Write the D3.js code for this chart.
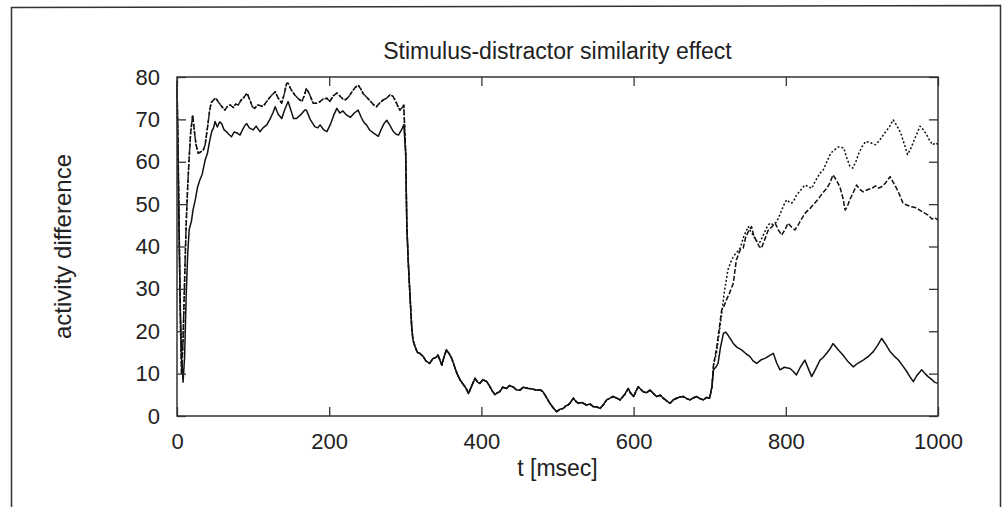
<!DOCTYPE html>
<html lang="en">
<head>
    <meta charset="UTF-8">
    <title>Stimulus-distractor similarity effect</title>
    <style>
        body{
            margin: 0;
            background: #fff;
            font-family: "Liberation Sans", Arial, sans-serif;
        }
        .axis path{
            display: none;
        }
        .axis line{
            stroke: #333;
            stroke-width: 1.3;
        }
        .axis text{
            font-size: 22px;
            fill: #222;
        }
        .curve{
            fill: none;
            stroke: #111;
            stroke-width: 1.5;
            stroke-linejoin: round;
        }
    </style>
</head>
<body>
    <svg width="1002" height="507"></svg>
    <script src="https://d3js.org/d3.v7.min.js"></script>
    <script>
        // [t (msec), activity difference]
        var solidHigh = [[0,78],[2,52],[4,28],[6,14],[8,8],[10,14],[12,28],[14,38],[16,44],[19,46],[21,48.6],[24,51],[27,54],[30,55.7],[33,57],[37,60.4],[40,62],[43,65],[45.6,67.1],[48,68],[50,69.5],[53,68.2],[56,69.4],[58.7,69],[62,67.5],[65,67.1],[68,66.5],[71.6,65.9],[75,67],[79,66.8],[82.8,66.3],[86,67.5],[89,68.5],[91.6,69],[95,68],[100,67.5],[104,68.4],[109,67.1],[113,68],[118,68.7],[122,70],[126,71.5],[129,73],[133,71.2],[137.6,70.2],[142,72.5],[146,74.2],[150,72],[153,70.2],[157,70.2],[162,71],[168,72.2],[170,72.2],[175,70],[181,68.3],[185,68],[188,68.7],[193,67.5],[197,67.1],[202,69],[206,71],[210,72.6],[214,71.5],[218,72],[223,71],[228,70.5],[233,71.5],[238,72.2],[242,70.5],[246,69.2],[249,68.7],[253,67.5],[258,66.8],[264.6,66],[268,67.5],[272,69],[275.6,69.8],[280,68.5],[284,67.2],[288,66.5],[291,66.3],[295,67.5],[298,68.7]];

        var upperHigh = [[0,79],[1.5,62],[3,42],[4.5,22],[6,10],[8,18],[10,32],[12,45],[14,54],[16,61],[18,67],[20.6,71],[23,67],[25,64],[28,62],[31,62.3],[34.6,62.8],[37,64],[40,68],[43,72.2],[45,74],[48,74.6],[51,75],[54,74.2],[58,73.2],[63,72.2],[66,73],[70,73.4],[74,72.8],[77,73.6],[80.6,73.4],[84,74.5],[88,75.2],[92,76.2],[96,74.5],[99,73],[102,72.6],[106,73.4],[110,73.2],[113,73],[117,74],[121,75],[125,75.8],[129,76.5],[133,75],[137.6,73.8],[141,76],[144,78.5],[146,78.5],[150,77],[155,75.7],[160,74.8],[164,74.2],[167,75.5],[170,77.3],[174,76],[179,73.8],[183.6,73.8],[188,74.2],[192,74.8],[197,75],[201,74.2],[205,75.5],[210,76.2],[214,75.5],[218,74.8],[221,74.6],[225,75.2],[230,76.5],[234,77.5],[238,78.1],[242,77],[245,76],[249,75.3],[253,74.5],[258,73.5],[262,73],[266,73.8],[271,74.6],[275.6,75],[280,75.8],[284,75.4],[288,74],[291,72.8],[293,72.2],[296,72.8],[298,73.4]];

        var commonLow = [[300.5,62],[302,45],[304,36],[306,29],[308.4,21],[310,18],[312.7,16.4],[316,15],[319,14.8],[323.7,14],[327,13],[332,12.4],[336,13.5],[341,13.9],[343,14.4],[348,12],[351,14],[354,15.6],[358,14.6],[361,13.6],[365,11.5],[368,10],[372,8.5],[376,7.5],[380,6.5],[383,5.3],[387,7],[391.6,8.9],[395,8],[398,7.7],[402,8.6],[407,8.1],[411,7],[414,6],[418,5],[421,5.5],[424,5.7],[428,6.8],[433,6.5],[437,7.2],[442,6.8],[446,6.2],[450.7,6.1],[455,6.8],[461.6,6.5],[466,6.4],[472.6,6.1],[477,6.2],[481,5.7],[485,4.5],[490,3],[494,2],[499,1],[503,1.6],[507.6,1.8],[511,2.4],[514,2.6],[517,3.2],[520.8,4.2],[524,3.5],[527,3],[532,3.2],[538,2.6],[543,2.8],[547,2.2],[551,2.2],[556,1.8],[560,2.6],[564.6,3.8],[569,4.2],[573,4.6],[578,4.2],[582,3.8],[588,5],[593,6.5],[596,5.4],[600,4.6],[603,5.8],[606,6.9],[610,6.2],[612.7,5.7],[617,5.5],[621.6,6.1],[626,5.3],[630,4.6],[635,4.9],[639,4.2],[644,3.5],[648,3],[652,3.8],[656.6,4.2],[661,4.5],[665,4.6],[670,4.1],[674,3.8],[679,4.3],[683,4.6],[687,4.1],[691.6,3.8],[696,4.4],[700,4.2],[703,7]];

        var solidLate = [[705,10.9],[708,11.5],[711,12.4],[714,16],[718,19.5],[721,19.8],[724,19.1],[728,18],[731,17.1],[736,16.2],[741.9,15.6],[747,14.8],[753,14],[757,13],[761.8,12.4],[767,13.2],[772.7,13.6],[778,14.2],[783.6,14.8],[788,12.5],[792.4,10.9],[798,11.5],[805.5,11.2],[810,10.5],[814,9.7],[819,11.5],[825,13.2],[830,11],[834,9.3],[839,11],[845,13.2],[849,13.8],[853.7,14.8],[858,15.8],[862,17.1],[868,15.8],[875,14.4],[881,13],[888.6,11.6],[895,12.5],[901.7,13.2],[908,14],[915,15.2],[920,16.5],[926,18.3],[931,17],[937,15.2],[942,14.2],[948,13.2],[953,12],[959,10.5],[963,9.3],[967.6,8.1],[972,9.5],[978.6,10.9],[983,10],[987,9.3],[992,8.6],[995,8],[1000,7.7]];

        var dashedLate = [[705,12],[709,16],[712,20],[715.7,25],[719,26],[722,27.4],[726,29],[731,31.3],[735,36.8],[740,39.2],[744,39.6],[747,42],[750.7,43.5],[755,44.7],[758,42.5],[761.8,41.2],[765,40],[768,39.6],[772,41.5],[777,43.9],[781,44.5],[786,45.5],[790,44],[794.6,42.7],[799,44],[803,45.5],[808,44.5],[812,43.9],[816,45],[821,46.6],[826,48],[832,49],[837,50],[843,51.3],[848,52.5],[853.7,53.7],[858,55],[862,56.9],[866,55.8],[871,54.1],[875,51.5],[878,48.6],[881,49.5],[884,51],[888,52.5],[893,54.5],[897,53.5],[901.7,52.9],[907,53.4],[912.6,53.7],[918,54.3],[922,53.8],[926,54.1],[931,55],[937,56.5],[941,55.2],[945.6,53.7],[950,52],[954,50.2],[959,49.8],[965,49.4],[970,49.2],[976,48.6],[981,48],[987,47.4],[992,46.5],[996,46.8],[1000,46.2]];

        var dottedLate = [[705,12],[709,15],[712,19],[715,23],[719,29],[724,34.5],[728,36.5],[731,37.6],[735,38.5],[740,39.6],[745,42.5],[750.7,44.7],[754,43.5],[757,42.7],[762,41.2],[766,41],[770,42.5],[775,44.5],[779,45.5],[783,45.2],[788,45.8],[791,47],[794.6,48.6],[798,50],[801,51],[804,50.6],[807.7,50.2],[811,51],[814,52.1],[819,53.2],[825,54.5],[829,54.2],[834,53.7],[839,55.5],[845,57.3],[849,58],[854,60],[859,62],[864,62.8],[869,63.5],[876,63.3],[880,61],[884,59],[888,58.5],[892,60],[896,62],[900,63.5],[905,64.8],[911,64.5],[917.7,64],[923,65],[930,66.8],[936,68.2],[941,69.9],[946,68.5],[951,66.8],[956,64],[960,61.7],[964,63],[968,64.8],[972,66.5],[976.5,68.4],[981,67.5],[985,66.4],[989,65],[993,64],[997,64.5],[1000,64]];

        var xTicks = [0, 200, 400, 600, 800, 1000];
        var yTicks = [0, 10, 20, 30, 40, 50, 60, 70, 80];

        var series = [
            {name: "dotted", dash: "2,2", points: upperHigh.concat(commonLow, dottedLate)},
            {name: "dashed", dash: "5,2", points: upperHigh.concat(commonLow, dashedLate)},
            {name: "solid", dash: null, points: solidHigh.concat(commonLow, solidLate)}
        ];

        var svg = d3.select("svg"),
            margin = {top: 77, right: 64, bottom: 91, left: 177},
            width = svg.attr("width") - margin.left - margin.right,
            height = svg.attr("height") - margin.top - margin.bottom;

        // scanned page border
        svg.append("path")
            .attr("d", "M11.5,520 L11.5,7.5 L1000.5,5.5 L1000.5,520")
            .attr("fill", "none")
            .attr("stroke", "#333")
            .attr("stroke-width", 1.5);

        var g = svg.append("g").attr("transform", "translate(" + margin.left + "," + margin.top + ")");

        var x = d3.scaleLinear().domain([0, 1000]).range([0, width]);
        var y = d3.scaleLinear().domain([0, 80]).range([height, 0]);

        var line = d3.line()
            .x(function(d){ return x(d[0]); })
            .y(function(d){ return y(d[1]); });

        g.selectAll(".curve")
            .data(series)
            .enter().append("path")
            .attr("class", "curve")
            .attr("stroke-dasharray", function(d){ return d.dash; })
            .attr("d", function(d){ return line(d.points); });

        // inward ticks on all four sides
        g.append("g")
            .attr("class", "x axis")
            .attr("transform", "translate(0," + height + ")")
            .call(d3.axisBottom(x).tickValues(xTicks).tickFormat(d3.format("d")).tickSize(-9).tickPadding(17));

        g.append("g")
            .attr("class", "x axis")
            .call(d3.axisTop(x).tickValues(xTicks).tickSize(-9).tickFormat(""));

        g.append("g")
            .attr("class", "y axis")
            .call(d3.axisLeft(y).tickValues(yTicks).tickSize(-9).tickPadding(17));

        g.append("g")
            .attr("class", "y axis")
            .attr("transform", "translate(" + width + ",0)")
            .call(d3.axisRight(y).tickValues(yTicks).tickSize(-9).tickFormat(""));

        g.append("rect")
            .attr("width", width)
            .attr("height", height)
            .attr("fill", "none")
            .attr("stroke", "#333")
            .attr("stroke-width", 1.5);

        svg.append("text")
            .attr("x", margin.left + width / 2)
            .attr("y", 59)
            .attr("text-anchor", "middle")
            .style("font-size", "23px")
            .style("fill", "#222")
            .text("Stimulus-distractor similarity effect");

        svg.append("text")
            .attr("x", margin.left + width / 2)
            .attr("y", 476)
            .attr("text-anchor", "middle")
            .style("font-size", "23px")
            .style("fill", "#222")
            .text("t [msec]");

        svg.append("text")
            .attr("transform", "translate(71," + (margin.top + height / 2) + ") rotate(-90)")
            .attr("text-anchor", "middle")
            .style("font-size", "24px")
            .style("fill", "#222")
            .text("activity difference");
    </script>
</body>
</html>
